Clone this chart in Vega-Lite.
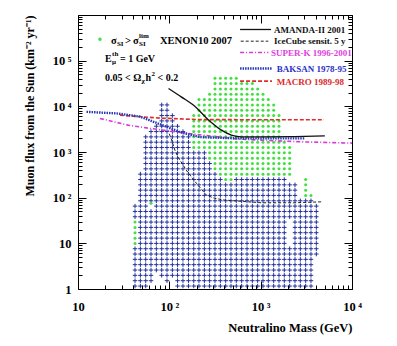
{
"$schema": "https://vega.github.io/schema/vega-lite/v6.json",
"width": 274, "height": 274,
"autosize": "none",
"padding": {"left": 78, "top": 15, "right": 45, "bottom": 57},
"background": "white",
"config": {"view": {"stroke": null}, "font": "Liberation Serif"},
"datasets": {
"blue": [
{"m":42.1,"f":1.16},{"m":48.2,"f":1.16},{"m":55.1,"f":1.16},{"m":123,"f":1.16},{"m":141,"f":1.16},{"m":162,"f":1.16},{"m":185,"f":1.16},{"m":211,"f":1.16},{"m":242,"f":1.16},{"m":276,"f":1.16},{"m":316,"f":1.16},{"m":362,"f":1.16},{"m":414,"f":1.16},{"m":473,"f":1.16},{"m":541,"f":1.16},{"m":619,"f":1.16},{"m":709,"f":1.16},{"m":811,"f":1.16},{"m":927,"f":1.16},{"m":1060,"f":1.16},{"m":1213,"f":1.16},{"m":1388,"f":1.16},{"m":1587,"f":1.16},{"m":1815,"f":1.16},{"m":2077,"f":1.16},{"m":2376,"f":1.16},{"m":2718,"f":1.16},{"m":3109,"f":1.16},{"m":3555,"f":1.16},
{"m":42.1,"f":1.52},{"m":48.2,"f":1.52},{"m":55.1,"f":1.52},{"m":63,"f":1.52},{"m":94.3,"f":1.52},{"m":123,"f":1.52},{"m":141,"f":1.52},{"m":162,"f":1.52},{"m":185,"f":1.52},{"m":211,"f":1.52},{"m":242,"f":1.52},{"m":276,"f":1.52},{"m":316,"f":1.52},{"m":362,"f":1.52},{"m":414,"f":1.52},{"m":473,"f":1.52},{"m":541,"f":1.52},{"m":619,"f":1.52},{"m":709,"f":1.52},{"m":811,"f":1.52},{"m":927,"f":1.52},{"m":1060,"f":1.52},{"m":1213,"f":1.52},{"m":1388,"f":1.52},{"m":1587,"f":1.52},{"m":1815,"f":1.52},{"m":2077,"f":1.52},{"m":2376,"f":1.52},{"m":2718,"f":1.52},{"m":3109,"f":1.52},{"m":3555,"f":1.52},
{"m":42.1,"f":1.99},{"m":48.2,"f":1.99},{"m":55.1,"f":1.99},{"m":63,"f":1.99},{"m":82.5,"f":1.99},{"m":94.3,"f":1.99},{"m":108,"f":1.99},{"m":123,"f":1.99},{"m":141,"f":1.99},{"m":162,"f":1.99},{"m":185,"f":1.99},{"m":211,"f":1.99},{"m":242,"f":1.99},{"m":276,"f":1.99},{"m":316,"f":1.99},{"m":362,"f":1.99},{"m":414,"f":1.99},{"m":473,"f":1.99},{"m":541,"f":1.99},{"m":619,"f":1.99},{"m":709,"f":1.99},{"m":811,"f":1.99},{"m":927,"f":1.99},{"m":1060,"f":1.99},{"m":1213,"f":1.99},{"m":1388,"f":1.99},{"m":1587,"f":1.99},{"m":1815,"f":1.99},{"m":2077,"f":1.99},{"m":2376,"f":1.99},{"m":2718,"f":1.99},{"m":3109,"f":1.99},{"m":3555,"f":1.99},
{"m":42.1,"f":2.6},{"m":48.2,"f":2.6},{"m":55.1,"f":2.6},{"m":63,"f":2.6},{"m":72.1,"f":2.6},{"m":82.5,"f":2.6},{"m":94.3,"f":2.6},{"m":108,"f":2.6},{"m":123,"f":2.6},{"m":141,"f":2.6},{"m":162,"f":2.6},{"m":185,"f":2.6},{"m":211,"f":2.6},{"m":242,"f":2.6},{"m":276,"f":2.6},{"m":316,"f":2.6},{"m":362,"f":2.6},{"m":414,"f":2.6},{"m":473,"f":2.6},{"m":541,"f":2.6},{"m":619,"f":2.6},{"m":709,"f":2.6},{"m":811,"f":2.6},{"m":927,"f":2.6},{"m":1060,"f":2.6},{"m":1213,"f":2.6},{"m":1388,"f":2.6},{"m":1587,"f":2.6},{"m":1815,"f":2.6},{"m":2077,"f":2.6},{"m":2376,"f":2.6},{"m":2718,"f":2.6},{"m":3109,"f":2.6},{"m":3555,"f":2.6},
{"m":42.1,"f":3.41},{"m":48.2,"f":3.41},{"m":55.1,"f":3.41},{"m":63,"f":3.41},{"m":72.1,"f":3.41},{"m":82.5,"f":3.41},{"m":94.3,"f":3.41},{"m":108,"f":3.41},{"m":123,"f":3.41},{"m":141,"f":3.41},{"m":162,"f":3.41},{"m":185,"f":3.41},{"m":211,"f":3.41},{"m":242,"f":3.41},{"m":276,"f":3.41},{"m":316,"f":3.41},{"m":362,"f":3.41},{"m":414,"f":3.41},{"m":473,"f":3.41},{"m":541,"f":3.41},{"m":619,"f":3.41},{"m":709,"f":3.41},{"m":811,"f":3.41},{"m":927,"f":3.41},{"m":1060,"f":3.41},{"m":1213,"f":3.41},{"m":1388,"f":3.41},{"m":1587,"f":3.41},{"m":1815,"f":3.41},{"m":2077,"f":3.41},{"m":2376,"f":3.41},{"m":2718,"f":3.41},{"m":3109,"f":3.41},{"m":3555,"f":3.41},
{"m":42.1,"f":4.46},{"m":48.2,"f":4.46},{"m":55.1,"f":4.46},{"m":63,"f":4.46},{"m":72.1,"f":4.46},{"m":82.5,"f":4.46},{"m":94.3,"f":4.46},{"m":108,"f":4.46},{"m":123,"f":4.46},{"m":141,"f":4.46},{"m":162,"f":4.46},{"m":185,"f":4.46},{"m":211,"f":4.46},{"m":242,"f":4.46},{"m":276,"f":4.46},{"m":316,"f":4.46},{"m":362,"f":4.46},{"m":414,"f":4.46},{"m":473,"f":4.46},{"m":541,"f":4.46},{"m":619,"f":4.46},{"m":709,"f":4.46},{"m":811,"f":4.46},{"m":927,"f":4.46},{"m":1060,"f":4.46},{"m":1213,"f":4.46},{"m":1388,"f":4.46},{"m":1587,"f":4.46},{"m":1815,"f":4.46},{"m":2077,"f":4.46},{"m":2376,"f":4.46},{"m":2718,"f":4.46},{"m":3109,"f":4.46},{"m":3555,"f":4.46},
{"m":42.1,"f":5.83},{"m":48.2,"f":5.83},{"m":55.1,"f":5.83},{"m":63,"f":5.83},{"m":72.1,"f":5.83},{"m":82.5,"f":5.83},{"m":94.3,"f":5.83},{"m":108,"f":5.83},{"m":123,"f":5.83},{"m":141,"f":5.83},{"m":162,"f":5.83},{"m":185,"f":5.83},{"m":211,"f":5.83},{"m":242,"f":5.83},{"m":276,"f":5.83},{"m":316,"f":5.83},{"m":362,"f":5.83},{"m":414,"f":5.83},{"m":473,"f":5.83},{"m":541,"f":5.83},{"m":619,"f":5.83},{"m":709,"f":5.83},{"m":811,"f":5.83},{"m":927,"f":5.83},{"m":1060,"f":5.83},{"m":1213,"f":5.83},{"m":1388,"f":5.83},{"m":1587,"f":5.83},{"m":1815,"f":5.83},{"m":2077,"f":5.83},{"m":2376,"f":5.83},{"m":2718,"f":5.83},{"m":3109,"f":5.83},{"m":3555,"f":5.83},{"m":4067,"f":5.83},
{"m":42.1,"f":7.62},{"m":48.2,"f":7.62},{"m":55.1,"f":7.62},{"m":63,"f":7.62},{"m":72.1,"f":7.62},{"m":82.5,"f":7.62},{"m":94.3,"f":7.62},{"m":108,"f":7.62},{"m":123,"f":7.62},{"m":141,"f":7.62},{"m":162,"f":7.62},{"m":185,"f":7.62},{"m":211,"f":7.62},{"m":242,"f":7.62},{"m":276,"f":7.62},{"m":316,"f":7.62},{"m":362,"f":7.62},{"m":414,"f":7.62},{"m":473,"f":7.62},{"m":541,"f":7.62},{"m":619,"f":7.62},{"m":709,"f":7.62},{"m":811,"f":7.62},{"m":927,"f":7.62},{"m":1060,"f":7.62},{"m":1213,"f":7.62},{"m":1388,"f":7.62},{"m":1587,"f":7.62},{"m":1815,"f":7.62},{"m":2077,"f":7.62},{"m":2376,"f":7.62},{"m":2718,"f":7.62},{"m":3109,"f":7.62},{"m":3555,"f":7.62},{"m":4067,"f":7.62},
{"m":48.2,"f":9.97},{"m":55.1,"f":9.97},{"m":63,"f":9.97},{"m":72.1,"f":9.97},{"m":82.5,"f":9.97},{"m":94.3,"f":9.97},{"m":108,"f":9.97},{"m":123,"f":9.97},{"m":141,"f":9.97},{"m":162,"f":9.97},{"m":185,"f":9.97},{"m":211,"f":9.97},{"m":242,"f":9.97},{"m":276,"f":9.97},{"m":316,"f":9.97},{"m":362,"f":9.97},{"m":414,"f":9.97},{"m":473,"f":9.97},{"m":541,"f":9.97},{"m":619,"f":9.97},{"m":709,"f":9.97},{"m":811,"f":9.97},{"m":927,"f":9.97},{"m":1060,"f":9.97},{"m":1213,"f":9.97},{"m":1388,"f":9.97},{"m":1587,"f":9.97},{"m":1815,"f":9.97},{"m":2376,"f":9.97},{"m":2718,"f":9.97},{"m":3109,"f":9.97},{"m":3555,"f":9.97},{"m":4067,"f":9.97},
{"m":48.2,"f":13},{"m":55.1,"f":13},{"m":63,"f":13},{"m":72.1,"f":13},{"m":82.5,"f":13},{"m":94.3,"f":13},{"m":108,"f":13},{"m":123,"f":13},{"m":141,"f":13},{"m":162,"f":13},{"m":185,"f":13},{"m":211,"f":13},{"m":242,"f":13},{"m":276,"f":13},{"m":316,"f":13},{"m":362,"f":13},{"m":414,"f":13},{"m":473,"f":13},{"m":541,"f":13},{"m":619,"f":13},{"m":709,"f":13},{"m":811,"f":13},{"m":927,"f":13},{"m":1060,"f":13},{"m":1213,"f":13},{"m":1388,"f":13},{"m":1587,"f":13},{"m":1815,"f":13},{"m":2376,"f":13},{"m":2718,"f":13},{"m":3109,"f":13},{"m":3555,"f":13},{"m":4067,"f":13},
{"m":48.2,"f":17.1},{"m":55.1,"f":17.1},{"m":63,"f":17.1},{"m":72.1,"f":17.1},{"m":82.5,"f":17.1},{"m":94.3,"f":17.1},{"m":108,"f":17.1},{"m":123,"f":17.1},{"m":141,"f":17.1},{"m":162,"f":17.1},{"m":185,"f":17.1},{"m":211,"f":17.1},{"m":242,"f":17.1},{"m":276,"f":17.1},{"m":316,"f":17.1},{"m":362,"f":17.1},{"m":414,"f":17.1},{"m":473,"f":17.1},{"m":541,"f":17.1},{"m":619,"f":17.1},{"m":709,"f":17.1},{"m":811,"f":17.1},{"m":927,"f":17.1},{"m":1060,"f":17.1},{"m":1213,"f":17.1},{"m":1388,"f":17.1},{"m":1587,"f":17.1},{"m":1815,"f":17.1},{"m":2376,"f":17.1},{"m":2718,"f":17.1},{"m":3109,"f":17.1},{"m":3555,"f":17.1},{"m":4067,"f":17.1},
{"m":48.2,"f":22.3},{"m":55.1,"f":22.3},{"m":63,"f":22.3},{"m":72.1,"f":22.3},{"m":82.5,"f":22.3},{"m":94.3,"f":22.3},{"m":108,"f":22.3},{"m":123,"f":22.3},{"m":141,"f":22.3},{"m":162,"f":22.3},{"m":185,"f":22.3},{"m":211,"f":22.3},{"m":242,"f":22.3},{"m":276,"f":22.3},{"m":316,"f":22.3},{"m":362,"f":22.3},{"m":414,"f":22.3},{"m":473,"f":22.3},{"m":541,"f":22.3},{"m":619,"f":22.3},{"m":709,"f":22.3},{"m":811,"f":22.3},{"m":927,"f":22.3},{"m":1060,"f":22.3},{"m":1213,"f":22.3},{"m":1388,"f":22.3},{"m":1587,"f":22.3},{"m":1815,"f":22.3},{"m":2376,"f":22.3},{"m":2718,"f":22.3},{"m":3109,"f":22.3},{"m":3555,"f":22.3},{"m":4067,"f":22.3},
{"m":48.2,"f":29.2},{"m":55.1,"f":29.2},{"m":63,"f":29.2},{"m":72.1,"f":29.2},{"m":82.5,"f":29.2},{"m":94.3,"f":29.2},{"m":108,"f":29.2},{"m":123,"f":29.2},{"m":141,"f":29.2},{"m":162,"f":29.2},{"m":185,"f":29.2},{"m":211,"f":29.2},{"m":242,"f":29.2},{"m":276,"f":29.2},{"m":316,"f":29.2},{"m":362,"f":29.2},{"m":414,"f":29.2},{"m":473,"f":29.2},{"m":541,"f":29.2},{"m":619,"f":29.2},{"m":709,"f":29.2},{"m":811,"f":29.2},{"m":927,"f":29.2},{"m":1060,"f":29.2},{"m":1213,"f":29.2},{"m":1388,"f":29.2},{"m":1587,"f":29.2},{"m":1815,"f":29.2},{"m":2376,"f":29.2},{"m":2718,"f":29.2},{"m":3109,"f":29.2},{"m":3555,"f":29.2},{"m":4067,"f":29.2},
{"m":42.1,"f":38.2},{"m":48.2,"f":38.2},{"m":55.1,"f":38.2},{"m":63,"f":38.2},{"m":72.1,"f":38.2},{"m":82.5,"f":38.2},{"m":94.3,"f":38.2},{"m":108,"f":38.2},{"m":123,"f":38.2},{"m":141,"f":38.2},{"m":162,"f":38.2},{"m":185,"f":38.2},{"m":211,"f":38.2},{"m":242,"f":38.2},{"m":276,"f":38.2},{"m":316,"f":38.2},{"m":362,"f":38.2},{"m":414,"f":38.2},{"m":473,"f":38.2},{"m":541,"f":38.2},{"m":619,"f":38.2},{"m":709,"f":38.2},{"m":811,"f":38.2},{"m":927,"f":38.2},{"m":1060,"f":38.2},{"m":1213,"f":38.2},{"m":1388,"f":38.2},{"m":1587,"f":38.2},{"m":1815,"f":38.2},{"m":2077,"f":38.2},{"m":2376,"f":38.2},{"m":2718,"f":38.2},{"m":3109,"f":38.2},{"m":3555,"f":38.2},{"m":4067,"f":38.2},
{"m":42.1,"f":49.9},{"m":48.2,"f":49.9},{"m":55.1,"f":49.9},{"m":63,"f":49.9},{"m":72.1,"f":49.9},{"m":82.5,"f":49.9},{"m":94.3,"f":49.9},{"m":108,"f":49.9},{"m":123,"f":49.9},{"m":141,"f":49.9},{"m":162,"f":49.9},{"m":185,"f":49.9},{"m":211,"f":49.9},{"m":242,"f":49.9},{"m":276,"f":49.9},{"m":316,"f":49.9},{"m":362,"f":49.9},{"m":414,"f":49.9},{"m":473,"f":49.9},{"m":541,"f":49.9},{"m":619,"f":49.9},{"m":709,"f":49.9},{"m":811,"f":49.9},{"m":927,"f":49.9},{"m":1060,"f":49.9},{"m":1213,"f":49.9},{"m":1388,"f":49.9},{"m":1587,"f":49.9},{"m":1815,"f":49.9},{"m":2077,"f":49.9},{"m":2376,"f":49.9},{"m":2718,"f":49.9},{"m":3109,"f":49.9},{"m":3555,"f":49.9},{"m":4067,"f":49.9},
{"m":42.1,"f":65.3},{"m":48.2,"f":65.3},{"m":55.1,"f":65.3},{"m":72.1,"f":65.3},{"m":82.5,"f":65.3},{"m":94.3,"f":65.3},{"m":108,"f":65.3},{"m":123,"f":65.3},{"m":141,"f":65.3},{"m":162,"f":65.3},{"m":185,"f":65.3},{"m":211,"f":65.3},{"m":242,"f":65.3},{"m":276,"f":65.3},{"m":316,"f":65.3},{"m":362,"f":65.3},{"m":414,"f":65.3},{"m":473,"f":65.3},{"m":541,"f":65.3},{"m":619,"f":65.3},{"m":709,"f":65.3},{"m":811,"f":65.3},{"m":927,"f":65.3},{"m":1060,"f":65.3},{"m":1213,"f":65.3},{"m":1388,"f":65.3},{"m":1587,"f":65.3},{"m":1815,"f":65.3},{"m":2077,"f":65.3},{"m":2376,"f":65.3},{"m":2718,"f":65.3},{"m":3109,"f":65.3},{"m":3555,"f":65.3},{"m":4067,"f":65.3},
{"m":48.2,"f":85.4},{"m":55.1,"f":85.4},{"m":63,"f":85.4},{"m":72.1,"f":85.4},{"m":82.5,"f":85.4},{"m":94.3,"f":85.4},{"m":108,"f":85.4},{"m":123,"f":85.4},{"m":141,"f":85.4},{"m":162,"f":85.4},{"m":185,"f":85.4},{"m":211,"f":85.4},{"m":242,"f":85.4},{"m":276,"f":85.4},{"m":316,"f":85.4},{"m":362,"f":85.4},{"m":414,"f":85.4},{"m":473,"f":85.4},{"m":541,"f":85.4},{"m":619,"f":85.4},{"m":709,"f":85.4},{"m":811,"f":85.4},{"m":927,"f":85.4},{"m":1060,"f":85.4},{"m":1213,"f":85.4},{"m":1388,"f":85.4},{"m":1587,"f":85.4},{"m":1815,"f":85.4},{"m":2077,"f":85.4},{"m":2376,"f":85.4},{"m":2718,"f":85.4},{"m":3109,"f":85.4},{"m":3555,"f":85.4},
{"m":48.2,"f":112},{"m":55.1,"f":112},{"m":63,"f":112},{"m":72.1,"f":112},{"m":82.5,"f":112},{"m":94.3,"f":112},{"m":108,"f":112},{"m":123,"f":112},{"m":141,"f":112},{"m":162,"f":112},{"m":185,"f":112},{"m":211,"f":112},{"m":242,"f":112},{"m":276,"f":112},{"m":316,"f":112},{"m":362,"f":112},{"m":414,"f":112},{"m":473,"f":112},{"m":541,"f":112},{"m":619,"f":112},{"m":709,"f":112},{"m":811,"f":112},{"m":927,"f":112},{"m":1060,"f":112},{"m":1213,"f":112},{"m":1388,"f":112},{"m":1587,"f":112},{"m":1815,"f":112},{"m":2077,"f":112},{"m":2376,"f":112},
{"m":48.2,"f":146},{"m":55.1,"f":146},{"m":63,"f":146},{"m":72.1,"f":146},{"m":82.5,"f":146},{"m":94.3,"f":146},{"m":108,"f":146},{"m":123,"f":146},{"m":141,"f":146},{"m":162,"f":146},{"m":185,"f":146},{"m":211,"f":146},{"m":242,"f":146},{"m":276,"f":146},{"m":316,"f":146},{"m":362,"f":146},{"m":414,"f":146},{"m":473,"f":146},{"m":541,"f":146},{"m":619,"f":146},{"m":709,"f":146},{"m":811,"f":146},{"m":927,"f":146},{"m":1060,"f":146},{"m":1213,"f":146},{"m":1388,"f":146},{"m":1587,"f":146},{"m":1815,"f":146},{"m":2077,"f":146},{"m":2376,"f":146},
{"m":48.2,"f":191},{"m":55.1,"f":191},{"m":63,"f":191},{"m":72.1,"f":191},{"m":82.5,"f":191},{"m":94.3,"f":191},{"m":108,"f":191},{"m":123,"f":191},{"m":141,"f":191},{"m":162,"f":191},{"m":185,"f":191},{"m":211,"f":191},{"m":242,"f":191},{"m":276,"f":191},{"m":316,"f":191},{"m":362,"f":191},{"m":414,"f":191},{"m":473,"f":191},{"m":541,"f":191},{"m":619,"f":191},{"m":709,"f":191},{"m":811,"f":191},{"m":927,"f":191},{"m":1060,"f":191},{"m":1213,"f":191},{"m":1388,"f":191},{"m":1587,"f":191},{"m":1815,"f":191},{"m":2077,"f":191},{"m":2376,"f":191},
{"m":48.2,"f":250},{"m":55.1,"f":250},{"m":63,"f":250},{"m":72.1,"f":250},{"m":82.5,"f":250},{"m":94.3,"f":250},{"m":108,"f":250},{"m":123,"f":250},{"m":141,"f":250},{"m":162,"f":250},{"m":185,"f":250},{"m":211,"f":250},{"m":242,"f":250},{"m":276,"f":250},{"m":316,"f":250},{"m":362,"f":250},{"m":541,"f":250},{"m":619,"f":250},{"m":709,"f":250},{"m":811,"f":250},{"m":927,"f":250},{"m":1060,"f":250},{"m":1213,"f":250},{"m":1388,"f":250},{"m":1587,"f":250},{"m":1815,"f":250},
{"m":48.2,"f":327},{"m":55.1,"f":327},{"m":63,"f":327},{"m":72.1,"f":327},{"m":82.5,"f":327},{"m":94.3,"f":327},{"m":108,"f":327},{"m":123,"f":327},{"m":141,"f":327},{"m":162,"f":327},{"m":185,"f":327},{"m":211,"f":327},{"m":242,"f":327},{"m":276,"f":327},{"m":316,"f":327},
{"m":55.1,"f":428},{"m":63,"f":428},{"m":72.1,"f":428},{"m":82.5,"f":428},{"m":94.3,"f":428},{"m":108,"f":428},{"m":123,"f":428},{"m":141,"f":428},{"m":162,"f":428},{"m":185,"f":428},{"m":211,"f":428},{"m":242,"f":428},{"m":276,"f":428},
{"m":55.1,"f":560},{"m":63,"f":560},{"m":72.1,"f":560},{"m":82.5,"f":560},{"m":94.3,"f":560},{"m":108,"f":560},{"m":123,"f":560},{"m":141,"f":560},{"m":162,"f":560},{"m":185,"f":560},{"m":211,"f":560},{"m":242,"f":560},{"m":276,"f":560},
{"m":55.1,"f":732},{"m":63,"f":732},{"m":72.1,"f":732},{"m":82.5,"f":732},{"m":94.3,"f":732},{"m":108,"f":732},{"m":123,"f":732},{"m":141,"f":732},{"m":162,"f":732},{"m":185,"f":732},{"m":211,"f":732},{"m":242,"f":732},
{"m":55.1,"f":958},{"m":63,"f":958},{"m":72.1,"f":958},{"m":82.5,"f":958},{"m":94.3,"f":958},{"m":108,"f":958},{"m":123,"f":958},{"m":141,"f":958},{"m":162,"f":958},{"m":185,"f":958},{"m":211,"f":958},{"m":242,"f":958},
{"m":55.1,"f":1253},{"m":63,"f":1253},{"m":72.1,"f":1253},{"m":82.5,"f":1253},{"m":94.3,"f":1253},{"m":108,"f":1253},{"m":123,"f":1253},{"m":141,"f":1253},{"m":162,"f":1253},
{"m":55.1,"f":1639},{"m":63,"f":1639},{"m":72.1,"f":1639},{"m":82.5,"f":1639},{"m":94.3,"f":1639},{"m":108,"f":1639},{"m":123,"f":1639},{"m":141,"f":1639},{"m":162,"f":1639},
{"m":55.1,"f":2144},{"m":63,"f":2144},{"m":72.1,"f":2144},{"m":82.5,"f":2144},{"m":94.3,"f":2144},{"m":108,"f":2144},{"m":123,"f":2144},{"m":141,"f":2144},{"m":162,"f":2144},
{"m":63,"f":2804},{"m":72.1,"f":2804},{"m":82.5,"f":2804},{"m":94.3,"f":2804},{"m":108,"f":2804},{"m":123,"f":2804},{"m":141,"f":2804},
{"m":72.1,"f":3668},{"m":82.5,"f":3668},{"m":94.3,"f":3668},{"m":108,"f":3668},{"m":123,"f":3668},
{"m":82.5,"f":4797},{"m":94.3,"f":4797},{"m":108,"f":4797},
{"m":82.5,"f":6277},{"m":94.3,"f":6277},{"m":108,"f":6277},
{"m":82.5,"f":8209},{"m":94.3,"f":8209},
{"m":82.5,"f":10738},{"m":94.3,"f":10738}
],
"green": [
{"m":42.1,"f":9.97},{"m":42.1,"f":13},{"m":42.1,"f":17.1},{"m":42.1,"f":22.3},{"m":42.1,"f":29.2},{"m":63,"f":75},
{"m":3109,"f":112},{"m":3555,"f":112},{"m":3109,"f":146},{"m":3109,"f":191},
{"m":414,"f":250},{"m":473,"f":250},{"m":3109,"f":250},
{"m":362,"f":327},{"m":414,"f":327},{"m":473,"f":327},{"m":541,"f":327},{"m":619,"f":327},{"m":709,"f":327},{"m":811,"f":327},{"m":927,"f":327},{"m":1060,"f":327},{"m":1213,"f":327},{"m":1388,"f":327},{"m":1587,"f":327},{"m":1815,"f":327},{"m":2077,"f":327},
{"m":316,"f":428},{"m":362,"f":428},{"m":414,"f":428},{"m":473,"f":428},{"m":541,"f":428},{"m":619,"f":428},{"m":709,"f":428},{"m":811,"f":428},{"m":927,"f":428},{"m":1060,"f":428},{"m":1213,"f":428},{"m":1388,"f":428},{"m":1587,"f":428},{"m":1815,"f":428},{"m":2077,"f":428},
{"m":316,"f":560},{"m":362,"f":560},{"m":414,"f":560},{"m":473,"f":560},{"m":541,"f":560},{"m":619,"f":560},{"m":709,"f":560},{"m":811,"f":560},{"m":927,"f":560},{"m":1060,"f":560},{"m":1213,"f":560},{"m":1388,"f":560},{"m":1587,"f":560},{"m":1815,"f":560},{"m":2077,"f":560},
{"m":276,"f":732},{"m":316,"f":732},{"m":362,"f":732},{"m":414,"f":732},{"m":473,"f":732},{"m":541,"f":732},{"m":619,"f":732},{"m":709,"f":732},{"m":811,"f":732},{"m":927,"f":732},{"m":1060,"f":732},{"m":1213,"f":732},{"m":1388,"f":732},{"m":1587,"f":732},{"m":1815,"f":732},{"m":2077,"f":732},
{"m":276,"f":958},{"m":316,"f":958},{"m":362,"f":958},{"m":414,"f":958},{"m":473,"f":958},{"m":541,"f":958},{"m":619,"f":958},{"m":709,"f":958},{"m":811,"f":958},{"m":927,"f":958},{"m":1060,"f":958},{"m":1213,"f":958},{"m":1388,"f":958},{"m":1587,"f":958},{"m":1815,"f":958},{"m":2077,"f":958},
{"m":185,"f":1253},{"m":211,"f":1253},{"m":242,"f":1253},{"m":276,"f":1253},{"m":316,"f":1253},{"m":362,"f":1253},{"m":414,"f":1253},{"m":473,"f":1253},{"m":541,"f":1253},{"m":619,"f":1253},{"m":709,"f":1253},{"m":811,"f":1253},{"m":927,"f":1253},{"m":1060,"f":1253},{"m":1213,"f":1253},{"m":1388,"f":1253},{"m":1587,"f":1253},{"m":1815,"f":1253},{"m":2077,"f":1253},
{"m":185,"f":1639},{"m":211,"f":1639},{"m":242,"f":1639},{"m":276,"f":1639},{"m":316,"f":1639},{"m":362,"f":1639},{"m":414,"f":1639},{"m":473,"f":1639},{"m":541,"f":1639},{"m":619,"f":1639},{"m":709,"f":1639},{"m":811,"f":1639},{"m":927,"f":1639},{"m":1060,"f":1639},{"m":1213,"f":1639},{"m":1388,"f":1639},{"m":1587,"f":1639},{"m":1815,"f":1639},
{"m":185,"f":2144},{"m":211,"f":2144},{"m":242,"f":2144},{"m":276,"f":2144},{"m":316,"f":2144},{"m":362,"f":2144},{"m":414,"f":2144},{"m":473,"f":2144},{"m":541,"f":2144},{"m":619,"f":2144},{"m":709,"f":2144},{"m":811,"f":2144},{"m":927,"f":2144},{"m":1060,"f":2144},{"m":1213,"f":2144},{"m":1388,"f":2144},{"m":1587,"f":2144},
{"m":185,"f":2804},{"m":211,"f":2804},{"m":242,"f":2804},{"m":276,"f":2804},{"m":316,"f":2804},{"m":362,"f":2804},{"m":414,"f":2804},{"m":473,"f":2804},{"m":541,"f":2804},{"m":619,"f":2804},{"m":709,"f":2804},{"m":811,"f":2804},{"m":927,"f":2804},{"m":1060,"f":2804},{"m":1213,"f":2804},{"m":1388,"f":2804},{"m":1587,"f":2804},
{"m":185,"f":3668},{"m":211,"f":3668},{"m":242,"f":3668},{"m":276,"f":3668},{"m":316,"f":3668},{"m":362,"f":3668},{"m":414,"f":3668},{"m":473,"f":3668},{"m":541,"f":3668},{"m":619,"f":3668},{"m":709,"f":3668},{"m":811,"f":3668},{"m":927,"f":3668},{"m":1060,"f":3668},{"m":1213,"f":3668},{"m":1388,"f":3668},{"m":1587,"f":3668},
{"m":185,"f":4797},{"m":211,"f":4797},{"m":242,"f":4797},{"m":276,"f":4797},{"m":316,"f":4797},{"m":362,"f":4797},{"m":414,"f":4797},{"m":473,"f":4797},{"m":541,"f":4797},{"m":619,"f":4797},{"m":709,"f":4797},{"m":811,"f":4797},{"m":927,"f":4797},{"m":1060,"f":4797},{"m":1213,"f":4797},{"m":1388,"f":4797},{"m":1587,"f":4797},
{"m":185,"f":6277},{"m":211,"f":6277},{"m":242,"f":6277},{"m":276,"f":6277},{"m":316,"f":6277},{"m":362,"f":6277},{"m":414,"f":6277},{"m":473,"f":6277},{"m":541,"f":6277},{"m":619,"f":6277},{"m":709,"f":6277},{"m":811,"f":6277},{"m":927,"f":6277},{"m":1060,"f":6277},{"m":1213,"f":6277},{"m":1388,"f":6277},{"m":1587,"f":6277},
{"m":211,"f":8209},{"m":242,"f":8209},{"m":276,"f":8209},{"m":316,"f":8209},{"m":362,"f":8209},{"m":414,"f":8209},{"m":473,"f":8209},{"m":541,"f":8209},{"m":619,"f":8209},{"m":709,"f":8209},{"m":811,"f":8209},{"m":927,"f":8209},{"m":1060,"f":8209},{"m":1213,"f":8209},{"m":1388,"f":8209},
{"m":211,"f":10738},{"m":242,"f":10738},{"m":276,"f":10738},{"m":316,"f":10738},{"m":362,"f":10738},{"m":414,"f":10738},{"m":473,"f":10738},{"m":541,"f":10738},{"m":619,"f":10738},{"m":709,"f":10738},{"m":811,"f":10738},{"m":927,"f":10738},{"m":1060,"f":10738},{"m":1213,"f":10738},{"m":1388,"f":10738},
{"m":211,"f":14045},{"m":242,"f":14045},{"m":276,"f":14045},{"m":316,"f":14045},{"m":362,"f":14045},{"m":414,"f":14045},{"m":473,"f":14045},{"m":541,"f":14045},{"m":619,"f":14045},{"m":709,"f":14045},{"m":811,"f":14045},{"m":927,"f":14045},{"m":1060,"f":14045},{"m":1213,"f":14045},
{"m":276,"f":18380},{"m":316,"f":18380},{"m":362,"f":18380},{"m":414,"f":18380},{"m":473,"f":18380},{"m":541,"f":18380},{"m":619,"f":18380},{"m":709,"f":18380},{"m":811,"f":18380},{"m":927,"f":18380},{"m":1060,"f":18380},
{"m":316,"f":24040},{"m":362,"f":24040},{"m":414,"f":24040},{"m":473,"f":24040},{"m":541,"f":24040},{"m":619,"f":24040},{"m":709,"f":24040},{"m":811,"f":24040},{"m":927,"f":24040},
{"m":316,"f":31440},{"m":362,"f":31440},{"m":414,"f":31440},{"m":473,"f":31440},{"m":541,"f":31440},{"m":619,"f":31440},{"m":709,"f":31440},{"m":811,"f":31440},
{"m":316,"f":41110},{"m":362,"f":41110},{"m":414,"f":41110},{"m":473,"f":41110},{"m":541,"f":41110}
],
"amanda": [{"m":98,"f":24660},{"m":135,"f":16140},{"m":190,"f":10090},{"m":265,"f":5160},{"m":372,"f":3010},{"m":478,"f":2340},{"m":615,"f":2150},{"m":1019,"f":2150},{"m":2360,"f":2180},{"m":5040,"f":2250}],
"icecube": [{"m":100,"f":2500},{"m":106,"f":1820},{"m":115,"f":1101},{"m":124,"f":785},{"m":153,"f":402},{"m":198,"f":206},{"m":254,"f":114},{"m":314,"f":96.5},{"m":404,"f":88.6},{"m":1019,"f":77.3},{"m":2360,"f":77.3},{"m":4820,"f":81.3}],
"superk": [{"m":17.4,"f":5433},{"m":35.3,"f":3880},{"m":61.5,"f":3283},{"m":160,"f":2553},{"m":565,"f":1915},{"m":2700,"f":1672},{"m":10000,"f":1566}],
"baksan": [{"m":12.4,"f":7580},{"m":26.6,"f":6995},{"m":47.7,"f":5954},{"m":81.1,"f":3981},{"m":131,"f":2725},{"m":217,"f":2118},{"m":565,"f":1985},{"m":3060,"f":1985}],
"macro": [{"m":28.8,"f":6412},{"m":79,"f":5520},{"m":217,"f":5117},{"m":4940,"f":5070}]
},
"layer": [
{"data": {"name": "blue"},
 "mark": {"type": "point", "shape": "M-1,0L1,0M0,-1L0,1", "filled": false, "stroke": "#24329a", "strokeWidth": 1, "size": 20, "opacity": 1},
 "encoding": {
  "x": {"field": "m", "type": "quantitative", "scale": {"type": "log", "domain": [10, 10000], "nice": false},
   "axis": {"orient": "bottom", "zindex": 1, "grid": false,
    "values": [10,20,30,40,50,60,70,80,90,100,200,300,400,500,600,700,800,900,1000,2000,3000,4000,5000,6000,7000,8000,9000,10000],
    "labelExpr": "datum.value==10?'10':datum.value==100?'\u200710\u2009²':datum.value==1000?'\u200710\u2009³':datum.value==10000?'\u200710\u2009⁴':''",
    "tickSize": {"condition": {"test": "indexof([10,100,1000,10000],datum.value)>=0", "value": -8}, "value": -4},
    "labelPadding": 19, "labelFont": "Liberation Serif", "labelFontSize": 12.5, "labelFontWeight": "bold", "labelColor": "black", "labelOverlap": false, "labelFlush": false,
    "domainColor": "black", "tickColor": "black",
    "title": "Neutralino Mass (GeV)", "titleAnchor": "end", "titleFont": "Liberation Serif", "titleFontSize": 12.5, "titleFontWeight": "bold", "titleColor": "black", "titlePadding": 5}},
  "y": {"field": "f", "type": "quantitative", "scale": {"type": "log", "domain": [1, 1000000], "nice": false},
   "axis": {"orient": "left", "zindex": 1, "grid": false,
    "values": [1,2,3,4,5,6,7,8,9,10,20,30,40,50,60,70,80,90,100,200,300,400,500,600,700,800,900,1000,2000,3000,4000,5000,6000,7000,8000,9000,10000,20000,30000,40000,50000,60000,70000,80000,90000,100000,200000,300000,400000,500000,600000,700000,800000,900000,1000000],
    "labelExpr": "datum.value==1?'1\u2007':datum.value==10?'10\u2007':datum.value==100?'10\u2009²':datum.value==1000?'10\u2009³':datum.value==10000?'10\u2009⁴':datum.value==100000?'10\u2009⁵':''",
    "tickSize": {"condition": {"test": "indexof([1,10,100,1000,10000,100000,1000000],datum.value)>=0", "value": -8}, "value": -4},
    "labelPadding": 15, "labelFont": "Liberation Serif", "labelFontSize": 12.5, "labelFontWeight": "bold", "labelColor": "black", "labelOverlap": false, "labelFlush": false,
    "domainColor": "black", "tickColor": "black",
    "title": "Muon flux from the Sun (km⁻² yr⁻¹)", "titleAnchor": "end", "titleFont": "Liberation Serif", "titleFontSize": 12, "titleFontWeight": "bold", "titleColor": "black", "titlePadding": 16}}
 }},
{"data": {"name": "green"},
 "mark": {"type": "circle", "color": "#40e040", "size": 9, "opacity": 1},
 "encoding": {
  "x": {"field": "m", "type": "quantitative",
   "axis": {"orient": "top", "zindex": 1, "grid": false, "labels": false, "title": null,
    "values": [10,20,30,40,50,60,70,80,90,100,200,300,400,500,600,700,800,900,1000,2000,3000,4000,5000,6000,7000,8000,9000,10000],
    "tickSize": {"condition": {"test": "indexof([10,100,1000,10000],datum.value)>=0", "value": -8}, "value": -4},
    "domainColor": "black", "tickColor": "black"}},
  "y": {"field": "f", "type": "quantitative",
   "axis": {"orient": "right", "zindex": 1, "grid": false, "labels": false, "title": null,
    "values": [1,2,3,4,5,6,7,8,9,10,20,30,40,50,60,70,80,90,100,200,300,400,500,600,700,800,900,1000,2000,3000,4000,5000,6000,7000,8000,9000,10000,20000,30000,40000,50000,60000,70000,80000,90000,100000,200000,300000,400000,500000,600000,700000,800000,900000,1000000],
    "tickSize": {"condition": {"test": "indexof([1,10,100,1000,10000,100000,1000000],datum.value)>=0", "value": -8}, "value": -4},
    "domainColor": "black", "tickColor": "black"}}
 }},
{"data": {"name": "macro"}, "mark": {"type": "line", "color": "#dd2c2c", "strokeWidth": 1.6, "strokeDash": [4, 2]},
 "encoding": {"x": {"field": "m", "type": "quantitative", "axis": null}, "y": {"field": "f", "type": "quantitative", "axis": null}}},
{"data": {"name": "superk"}, "mark": {"type": "line", "color": "#d838d8", "strokeWidth": 1.6, "strokeDash": [4, 2, 1, 2]},
 "encoding": {"x": {"field": "m", "type": "quantitative", "axis": null}, "y": {"field": "f", "type": "quantitative", "axis": null}}},
{"data": {"name": "baksan"}, "mark": {"type": "line", "color": "#2838b8", "strokeWidth": 2.4, "strokeDash": [1.5, 1]},
 "encoding": {"x": {"field": "m", "type": "quantitative", "axis": null}, "y": {"field": "f", "type": "quantitative", "axis": null}}},
{"data": {"name": "icecube"}, "mark": {"type": "line", "color": "#222222", "strokeWidth": 1, "strokeDash": [3, 2]},
 "encoding": {"x": {"field": "m", "type": "quantitative", "axis": null}, "y": {"field": "f", "type": "quantitative", "axis": null}}},
{"data": {"name": "amanda"}, "mark": {"type": "line", "color": "#111111", "strokeWidth": 1.3, "interpolate": "monotone"},
 "encoding": {"x": {"field": "m", "type": "quantitative", "axis": null}, "y": {"field": "f", "type": "quantitative", "axis": null}}},

{"data": {"values": [{}]}, "mark": {"type": "rule", "color": "#111111", "strokeWidth": 1.3},
 "encoding": {"x": {"datum": 595, "type": "quantitative", "axis": null}, "x2": {"datum": 1300}, "y": {"datum": 481600, "type": "quantitative", "axis": null}}},
{"data": {"values": [{}]}, "mark": {"type": "rule", "color": "#222222", "strokeWidth": 1, "strokeDash": [3, 2]},
 "encoding": {"x": {"datum": 605, "type": "quantitative", "axis": null}, "x2": {"datum": 1213}, "y": {"datum": 267200, "type": "quantitative", "axis": null}}},
{"data": {"values": [{}]}, "mark": {"type": "rule", "color": "#d838d8", "strokeWidth": 1.6, "strokeDash": [4, 2, 1, 2]},
 "encoding": {"x": {"datum": 595, "type": "quantitative", "axis": null}, "x2": {"datum": 1213}, "y": {"datum": 151100, "type": "quantitative", "axis": null}}},
{"data": {"values": [{}]}, "mark": {"type": "rule", "color": "#2838b8", "strokeWidth": 2.4, "strokeDash": [1.5, 1]},
 "encoding": {"x": {"datum": 595, "type": "quantitative", "axis": null}, "x2": {"datum": 1330}, "y": {"datum": 67500, "type": "quantitative", "axis": null}}},
{"data": {"values": [{}]}, "mark": {"type": "rule", "color": "#dd2c2c", "strokeWidth": 1.6, "strokeDash": [4, 2]},
 "encoding": {"x": {"datum": 595, "type": "quantitative", "axis": null}, "x2": {"datum": 1330}, "y": {"datum": 35600, "type": "quantitative", "axis": null}}},

{"data": {"values": [{}]}, "mark": {"type": "text", "text": "AMANDA-II 2001", "align": "left", "baseline": "alphabetic", "font": "Liberation Serif", "fontSize": 9, "fontWeight": "bold", "color": "#111111"},
 "encoding": {"x": {"datum": 1402, "type": "quantitative", "axis": null}, "y": {"datum": 410000, "type": "quantitative", "axis": null}}},
{"data": {"values": [{}]}, "mark": {"type": "text", "text": "IceCube sensit. 5 y", "align": "left", "baseline": "alphabetic", "font": "Liberation Serif", "fontSize": 9, "fontWeight": "bold", "color": "#111111"},
 "encoding": {"x": {"datum": 1402, "type": "quantitative", "axis": null}, "y": {"datum": 235600, "type": "quantitative", "axis": null}}},
{"data": {"values": [{}]}, "mark": {"type": "text", "text": "SUPER-K 1996-2001", "align": "left", "baseline": "alphabetic", "font": "Liberation Serif", "fontSize": 9, "fontWeight": "bold", "color": "#e040e0"},
 "encoding": {"x": {"datum": 1300, "type": "quantitative", "axis": null}, "y": {"datum": 128600, "type": "quantitative", "axis": null}}},
{"data": {"values": [{}]}, "mark": {"type": "text", "text": "BAKSAN 1978-95", "align": "left", "baseline": "alphabetic", "font": "Liberation Serif", "fontSize": 9, "fontWeight": "bold", "color": "#2a30c8"},
 "encoding": {"x": {"datum": 1500, "type": "quantitative", "axis": null}, "y": {"datum": 56900, "type": "quantitative", "axis": null}}},
{"data": {"values": [{}]}, "mark": {"type": "text", "text": "MACRO 1989-98", "align": "left", "baseline": "alphabetic", "font": "Liberation Serif", "fontSize": 9, "fontWeight": "bold", "color": "#e02828"},
 "encoding": {"x": {"datum": 1500, "type": "quantitative", "axis": null}, "y": {"datum": 29850, "type": "quantitative", "axis": null}}},

{"data": {"values": [{}]}, "mark": {"type": "circle", "color": "#40e040", "size": 12, "opacity": 1},
 "encoding": {"x": {"datum": 17.4, "type": "quantitative", "axis": null}, "y": {"datum": 295000, "type": "quantitative", "axis": null}}},
{"data": {"values": [{}]}, "mark": {"type": "text", "text": "σ", "align": "left", "baseline": "alphabetic", "font": "Liberation Serif", "fontSize": 10.5, "fontWeight": "bold", "color": "black"},
 "encoding": {"x": {"datum": 23.0, "type": "quantitative", "axis": null}, "y": {"datum": 235600, "type": "quantitative", "axis": null}}},
{"data": {"values": [{}]}, "mark": {"type": "text", "text": "SI", "align": "left", "baseline": "alphabetic", "font": "Liberation Serif", "fontSize": 7, "fontWeight": "bold", "color": "black"},
 "encoding": {"x": {"datum": 26.7, "type": "quantitative", "axis": null}, "y": {"datum": 207700, "type": "quantitative", "axis": null}}},
{"data": {"values": [{}]}, "mark": {"type": "text", "text": ">", "align": "left", "baseline": "alphabetic", "font": "Liberation Serif", "fontSize": 10.5, "fontWeight": "bold", "color": "black"},
 "encoding": {"x": {"datum": 32.7, "type": "quantitative", "axis": null}, "y": {"datum": 235600, "type": "quantitative", "axis": null}}},
{"data": {"values": [{}]}, "mark": {"type": "text", "text": "σ", "align": "left", "baseline": "alphabetic", "font": "Liberation Serif", "fontSize": 10.5, "fontWeight": "bold", "color": "black"},
 "encoding": {"x": {"datum": 40.0, "type": "quantitative", "axis": null}, "y": {"datum": 235600, "type": "quantitative", "axis": null}}},
{"data": {"values": [{}]}, "mark": {"type": "text", "text": "SI", "align": "left", "baseline": "alphabetic", "font": "Liberation Serif", "fontSize": 7, "fontWeight": "bold", "color": "black"},
 "encoding": {"x": {"datum": 46.6, "type": "quantitative", "axis": null}, "y": {"datum": 207700, "type": "quantitative", "axis": null}}},
{"data": {"values": [{}]}, "mark": {"type": "text", "text": "lim", "align": "left", "baseline": "alphabetic", "font": "Liberation Serif", "fontSize": 7, "fontWeight": "bold", "color": "black"},
 "encoding": {"x": {"datum": 46.6, "type": "quantitative", "axis": null}, "y": {"datum": 310500, "type": "quantitative", "axis": null}}},
{"data": {"values": [{}]}, "mark": {"type": "text", "text": "XENON10 2007", "align": "left", "baseline": "alphabetic", "font": "Liberation Serif", "fontSize": 10.5, "fontWeight": "bold", "color": "black"},
 "encoding": {"x": {"datum": 79.1, "type": "quantitative", "axis": null}, "y": {"datum": 235600, "type": "quantitative", "axis": null}}},
{"data": {"values": [{}]}, "mark": {"type": "text", "text": "E", "align": "left", "baseline": "alphabetic", "font": "Liberation Serif", "fontSize": 10, "fontWeight": "bold", "color": "black"},
 "encoding": {"x": {"datum": 19.8, "type": "quantitative", "axis": null}, "y": {"datum": 95100, "type": "quantitative", "axis": null}}},
{"data": {"values": [{}]}, "mark": {"type": "text", "text": "th", "align": "left", "baseline": "alphabetic", "font": "Liberation Serif", "fontSize": 7, "fontWeight": "bold", "color": "black"},
 "encoding": {"x": {"datum": 23.6, "type": "quantitative", "axis": null}, "y": {"datum": 125400, "type": "quantitative", "axis": null}}},
{"data": {"values": [{}]}, "mark": {"type": "text", "text": "μ", "align": "left", "baseline": "alphabetic", "font": "Liberation Serif", "fontSize": 7, "fontWeight": "bold", "color": "black"},
 "encoding": {"x": {"datum": 23.6, "type": "quantitative", "axis": null}, "y": {"datum": 83800, "type": "quantitative", "axis": null}}},
{"data": {"values": [{}]}, "mark": {"type": "text", "text": "= 1 GeV", "align": "left", "baseline": "alphabetic", "font": "Liberation Serif", "fontSize": 10, "fontWeight": "bold", "color": "black"},
 "encoding": {"x": {"datum": 28.8, "type": "quantitative", "axis": null}, "y": {"datum": 95100, "type": "quantitative", "axis": null}}},
{"data": {"values": [{}]}, "mark": {"type": "text", "text": "0.05 < Ω", "align": "left", "baseline": "alphabetic", "font": "Liberation Serif", "fontSize": 10, "fontWeight": "bold", "color": "black"},
 "encoding": {"x": {"datum": 19.8, "type": "quantitative", "axis": null}, "y": {"datum": 36500, "type": "quantitative", "axis": null}}},
{"data": {"values": [{}]}, "mark": {"type": "text", "text": "χ", "align": "left", "baseline": "alphabetic", "font": "Liberation Serif", "fontSize": 7, "fontWeight": "bold", "color": "black"},
 "encoding": {"x": {"datum": 49.6, "type": "quantitative", "axis": null}, "y": {"datum": 32200, "type": "quantitative", "axis": null}}},
{"data": {"values": [{}]}, "mark": {"type": "text", "text": "h", "align": "left", "baseline": "alphabetic", "font": "Liberation Serif", "fontSize": 10, "fontWeight": "bold", "color": "black"},
 "encoding": {"x": {"datum": 54.9, "type": "quantitative", "axis": null}, "y": {"datum": 36500, "type": "quantitative", "axis": null}}},
{"data": {"values": [{}]}, "mark": {"type": "text", "text": "2", "align": "left", "baseline": "alphabetic", "font": "Liberation Serif", "fontSize": 7, "fontWeight": "bold", "color": "black"},
 "encoding": {"x": {"datum": 63.8, "type": "quantitative", "axis": null}, "y": {"datum": 45800, "type": "quantitative", "axis": null}}},
{"data": {"values": [{}]}, "mark": {"type": "text", "text": "< 0.2", "align": "left", "baseline": "alphabetic", "font": "Liberation Serif", "fontSize": 10, "fontWeight": "bold", "color": "black"},
 "encoding": {"x": {"datum": 74.3, "type": "quantitative", "axis": null}, "y": {"datum": 36500, "type": "quantitative", "axis": null}}}
],
"resolve": {"axis": {"x": "independent", "y": "independent"}}
}
